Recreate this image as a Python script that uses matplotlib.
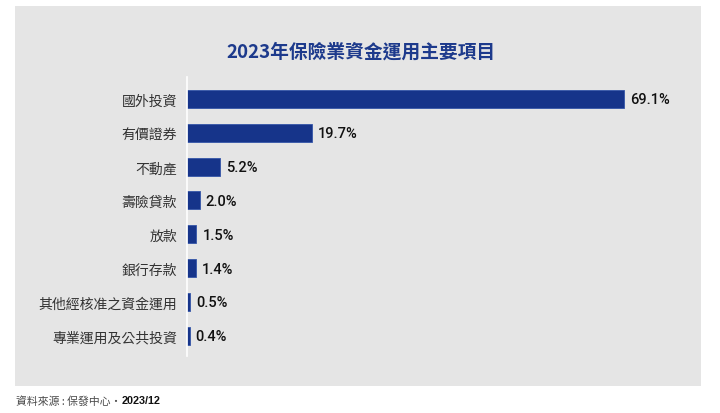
import matplotlib
matplotlib.use("Agg")
import matplotlib.pyplot as plt
from matplotlib.patches import Rectangle
from matplotlib.transforms import ScaledTranslation

categories = ['國外投資', '有價證券', '不動產', '壽險貸款', '放款', '銀行存款',
              '其他經核准之資金運用', '專業運用及公共投資']
values = [69.1, 19.7, 5.2, 2.0, 1.5, 1.4, 0.5, 0.4]
value_labels = ['69.1%', '19.7%', '5.2%', '2.0%', '1.5%', '1.4%', '0.5%', '0.4%']
title = '2023年保險業資金運用主要項目'
source = '資料來源 : 保發中心·'
source_date = '2023/12'

CJK = ['Noto Sans CJK TC', 'DejaVu Sans']
plt.rcParams['font.family'] = CJK

W, H = 720, 413
fig = plt.figure(figsize=(W / 100, H / 100), dpi=100)
fig.patch.set_facecolor('white')

# gray panel
px0, px1, py0, py1 = 15, 701, 6, 386
fig.patches.append(Rectangle((px0 / W, 1 - py1 / H), (px1 - px0) / W, (py1 - py0) / H,
                             transform=fig.transFigure, facecolor='#e5e5e5',
                             edgecolor='none', zorder=-5))

# axes placement (pixels)
ax_l, ax_r, ax_t, ax_b = 187, 687, 77, 356
ax = fig.add_axes([ax_l / W, 1 - ax_b / H, (ax_r - ax_l) / W, (ax_b - ax_t) / H])
ax.set_facecolor('none')
ax.set_zorder(2)

ypos = list(range(len(categories)))
ax.barh(ypos, values, height=0.53, color='#16348a', edgecolor='#3556a8', linewidth=0.6, zorder=2)
ax.set_xlim(0, (ax_r - ax_l) / 6.32)
ax.set_ylim(7.6, -0.65)

for y, v, lab in zip(ypos, values, value_labels):
    ax.annotate(lab, xy=(v, y), xytext=(6, -1.5), textcoords='offset pixels',
                ha='left', va='center', fontsize=10.5, color='#111111',
                family=['Roboto', 'DejaVu Sans'], fontweight='medium')

ax.set_yticks(ypos)
ax.set_yticklabels(categories, fontsize=10, color='#333333')
ax.tick_params(axis='y', length=0, pad=7)
shift = ScaledTranslation(0, -1 / 100, fig.dpi_scale_trans)
for tl in ax.get_yticklabels():
    tl.set_transform(tl.get_transform() + shift)
ax.set_xticks([])
for s in ['top', 'right', 'bottom']:
    ax.spines[s].set_visible(False)
ax.spines['left'].set_color('white')
ax.spines['left'].set_linewidth(1.2)

fig.text(361 / W, 1 - 52 / H, title, ha='center', va='center', fontsize=13.5,
         fontweight='bold', color='#1d3a8c')

t1 = fig.text(16 / W, 1 - 401 / H, source, ha='left', va='center', fontsize=7.8, color='#4a4a4a')
fig.canvas.draw()
bb = t1.get_window_extent(renderer=fig.canvas.get_renderer())
fig.text(bb.x1 / W, 1 - 401 / H, source_date, ha='left', va='center', fontsize=7.8,
         fontweight='bold', color='#111111', family=['Liberation Sans', 'DejaVu Sans'])

fig.savefig('out.png', dpi=100, facecolor='white')
